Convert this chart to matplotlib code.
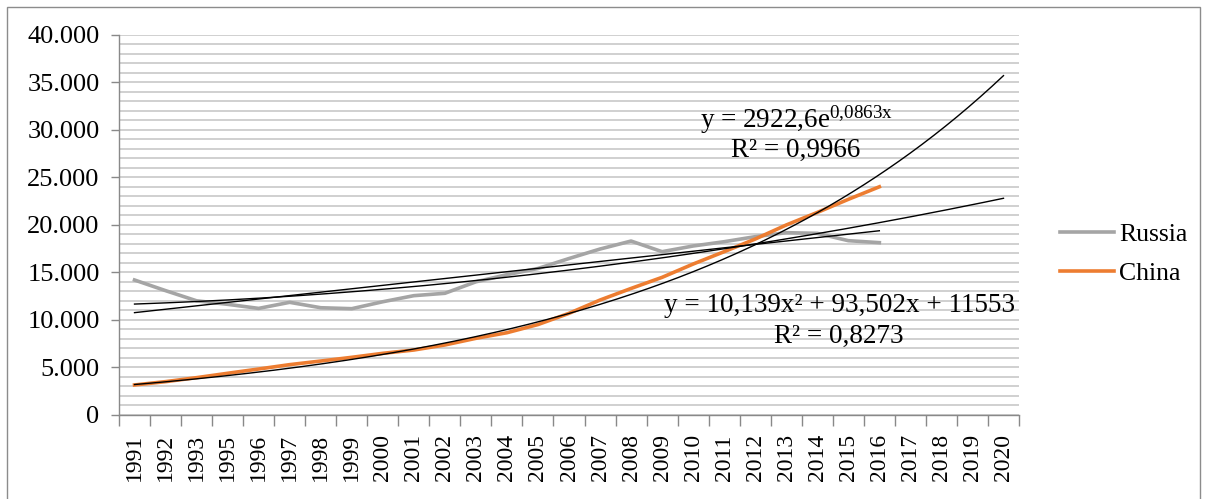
import numpy as np
import matplotlib
matplotlib.use("Agg")
import matplotlib.pyplot as plt
from matplotlib.ticker import FuncFormatter, MultipleLocator
from matplotlib.patches import Rectangle

plt.rcParams['font.family'] = ['Liberation Serif', 'DejaVu Serif']
plt.rcParams['mathtext.fontset'] = 'custom'
plt.rcParams['mathtext.rm'] = 'Liberation Serif'
plt.rcParams['mathtext.it'] = 'Liberation Serif:italic'

# categories (1994 is missing in the source)
years = ['1991', '1992', '1993', '1995', '1996', '1997', '1998', '1999', '2000',
         '2001', '2002', '2003', '2004', '2005', '2006', '2007', '2008', '2009',
         '2010', '2011', '2012', '2013', '2014', '2015', '2016',
         '2017', '2018', '2019', '2020']

russia = [14190, 13070, 12000, 11630, 11200, 11840, 11270, 11170, 11900, 12540,
          12790, 14000, 14750, 15400, 16450, 17450, 18290, 17170, 17770, 18220,
          18750, 19170, 19100, 18330, 18120]
china = [3140, 3490, 3910, 4370, 4820, 5280, 5660, 6050, 6470, 6820,
         7350, 8050, 8640, 9500, 10680, 12080, 13300, 14470, 15870, 17170,
         18500, 19980, 21300, 22680, 24000]

# trendline coefficients as printed on the chart
poly_coef = [10.139, 93.502, 11553]
exp_a, exp_b = 2922.6, 0.0863

GRAY = '#A5A5A5'
ORANGE = '#ED7D31'
W, H = 1208, 499

fig = plt.figure(figsize=(W / 100, H / 100), dpi=100)
ax = fig.add_axes([119 / W, (H - 414.8) / H, 900 / W, 380 / H])

n_cat = len(years)
x_all = np.arange(1, n_cat + 1)
x_data = np.arange(1, len(russia) + 1)

ax.plot(x_data, russia, color=GRAY, lw=2.6, label='Russia', zorder=3)
ax.plot(x_data, china, color=ORANGE, lw=2.6, label='China', zorder=3)

# trendlines
xs = np.linspace(1, n_cat, 300)
lin = np.polyfit(x_data, russia, 1)
ax.plot(x_data, np.polyval(lin, x_data), color='black', lw=1, zorder=4)
ax.plot(xs, np.polyval(poly_coef, xs), color='black', lw=1, zorder=4)
ax.plot(xs, exp_a * np.exp(exp_b * xs), color='black', lw=1, zorder=4)

ax.set_xlim(0.5, n_cat + 0.5)
ax.set_ylim(0, 40000)

ax.yaxis.set_major_locator(MultipleLocator(5000))
ax.yaxis.set_minor_locator(MultipleLocator(1000))
ax.yaxis.set_major_formatter(FuncFormatter(lambda v, p: f"{int(v):,}".replace(',', '.')))
ax.grid(True, which='both', axis='y', color='#D0D0D0', lw=1.4, zorder=0)
ax.tick_params(axis='y', which='major', length=6, width=1, color='#898989',
               labelsize=19, pad=8)
ax.tick_params(axis='y', which='minor', length=0)

# x: tick marks between categories, labels at centers
ax.set_xticks(np.arange(0.5, n_cat + 1, 1))
ax.set_xticklabels([])
ax.set_xticks(x_all, minor=True)
ax.set_xticklabels(years, minor=True, rotation=90)
ax.tick_params(axis='x', which='major', length=8, width=1, color='#898989')
ax.tick_params(axis='x', which='minor', length=0, labelsize=17, pad=14)

for s in ['top', 'right']:
    ax.spines[s].set_visible(False)
for s in ['left', 'bottom']:
    ax.spines[s].set_color('#898989')
    ax.spines[s].set_linewidth(1)


def label(px, py, s):
    fig.text(px / W, 1 - py / H, s, fontsize=19.5, ha='center', va='center')


# equations
label(796, 120, r'y = 2922,6e$^{\mathregular{0{,}0863x}}$')
label(796, 150, 'R² = 0,9966')
label(839, 305, 'y = 10,139x² + 93,502x + 11553')
label(839, 336, 'R² = 0,8273')

leg = ax.legend(loc='center left', bbox_to_anchor=(1060 / W, 1 - 254 / H),
                bbox_transform=fig.transFigure, frameon=False, fontsize=18.5,
                handlelength=2.1, handletextpad=0.2, labelspacing=0.65,
                borderpad=0, borderaxespad=0)

fig.patches.append(Rectangle((7 / W, -0.05), 1193 / W, 1.05 - 7 / H,
                             transform=fig.transFigure, fill=False,
                             edgecolor='#8C8C8C', lw=1))

fig.savefig('out.png', dpi=100)
